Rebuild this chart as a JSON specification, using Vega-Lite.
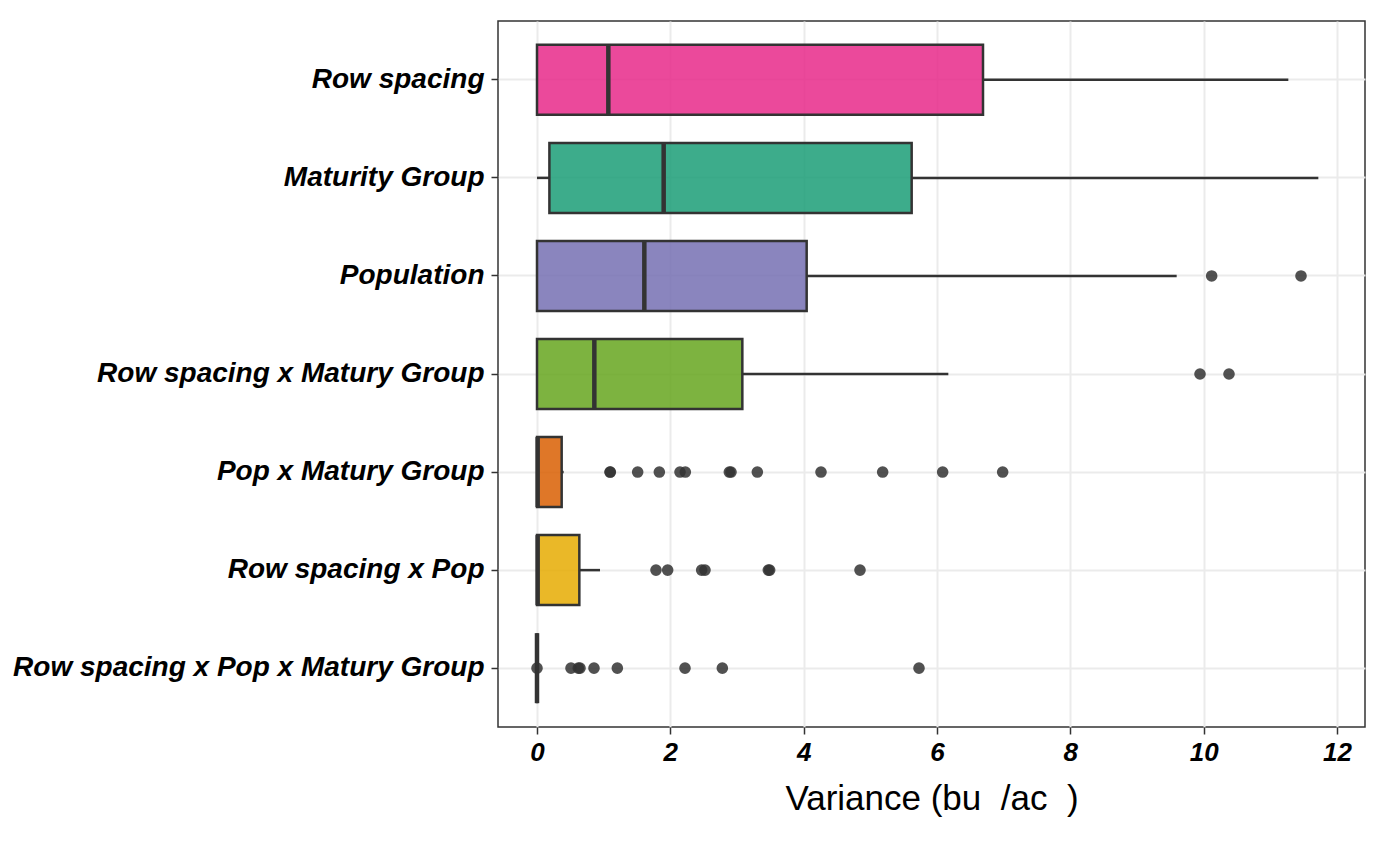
{
  "$schema": "https://vega.github.io/schema/vega-lite/v6.json",
  "autosize": {"type": "none"},
  "padding": {"left": 498, "top": 21, "right": 13, "bottom": 116},
  "width": 867,
  "height": 706,
  "background": "white",
  "config": {
    "view": {"stroke": "#333333", "strokeWidth": 1.5},
    "font": "Liberation Sans"
  },
  "datasets": {
    "boxes": [
      {"cat": "Row spacing", "lo": 0.0, "q1": 0.0, "med": 1.07, "q3": 6.69, "hi": 11.27},
      {"cat": "Maturity Group", "lo": 0.0, "q1": 0.186, "med": 1.9, "q3": 5.62, "hi": 11.72},
      {"cat": "Population", "lo": 0.0, "q1": 0.0, "med": 1.61, "q3": 4.045, "hi": 9.595},
      {"cat": "Row spacing x Matury Group", "lo": 0.0, "q1": 0.0, "med": 0.86, "q3": 3.08, "hi": 6.17},
      {"cat": "Pop x Matury Group", "lo": 0.0, "q1": 0.0, "med": 0.01, "q3": 0.37, "hi": 0.4},
      {"cat": "Row spacing x Pop", "lo": 0.0, "q1": 0.0, "med": 0.01, "q3": 0.635, "hi": 0.945},
      {"cat": "Row spacing x Pop x Matury Group", "lo": 0.0, "q1": 0.0, "med": 0.0, "q3": 0.0, "hi": 0.0}
    ],
    "outliers": [
      {"cat": "Population", "v": 10.12},
      {"cat": "Population", "v": 11.46},
      {"cat": "Row spacing x Matury Group", "v": 9.945},
      {"cat": "Row spacing x Matury Group", "v": 10.38},
      {"cat": "Pop x Matury Group", "v": 1.095},
      {"cat": "Pop x Matury Group", "v": 1.1},
      {"cat": "Pop x Matury Group", "v": 1.51},
      {"cat": "Pop x Matury Group", "v": 1.835},
      {"cat": "Pop x Matury Group", "v": 2.145},
      {"cat": "Pop x Matury Group", "v": 2.225},
      {"cat": "Pop x Matury Group", "v": 2.885},
      {"cat": "Pop x Matury Group", "v": 2.91},
      {"cat": "Pop x Matury Group", "v": 3.305},
      {"cat": "Pop x Matury Group", "v": 4.26},
      {"cat": "Pop x Matury Group", "v": 5.185},
      {"cat": "Pop x Matury Group", "v": 6.085},
      {"cat": "Pop x Matury Group", "v": 6.985},
      {"cat": "Row spacing x Pop", "v": 1.785},
      {"cat": "Row spacing x Pop", "v": 1.96},
      {"cat": "Row spacing x Pop", "v": 2.47},
      {"cat": "Row spacing x Pop", "v": 2.52},
      {"cat": "Row spacing x Pop", "v": 3.47},
      {"cat": "Row spacing x Pop", "v": 3.49},
      {"cat": "Row spacing x Pop", "v": 4.845},
      {"cat": "Row spacing x Pop x Matury Group", "v": 0.0},
      {"cat": "Row spacing x Pop x Matury Group", "v": 0.51},
      {"cat": "Row spacing x Pop x Matury Group", "v": 0.62},
      {"cat": "Row spacing x Pop x Matury Group", "v": 0.645},
      {"cat": "Row spacing x Pop x Matury Group", "v": 0.855},
      {"cat": "Row spacing x Pop x Matury Group", "v": 1.205},
      {"cat": "Row spacing x Pop x Matury Group", "v": 2.22},
      {"cat": "Row spacing x Pop x Matury Group", "v": 2.78},
      {"cat": "Row spacing x Pop x Matury Group", "v": 5.73}
    ]
  },
  "encoding": {
    "y": {
      "field": "cat",
      "type": "nominal",
      "sort": ["Row spacing", "Maturity Group", "Population", "Row spacing x Matury Group", "Pop x Matury Group", "Row spacing x Pop", "Row spacing x Pop x Matury Group"],
      "scale": {"paddingInner": 0.286, "paddingOuter": 0.243},
      "axis": {
        "title": null,
        "domain": false,
        "grid": true,
        "gridColor": "#EBEBEB",
        "gridWidth": 2,
        "ticks": true,
        "tickColor": "#333333",
        "tickSize": 7,
        "tickWidth": 1.5,
        "labelFont": "Liberation Sans",
        "labelFontSize": 28,
        "labelFontWeight": "bold",
        "labelFontStyle": "italic",
        "labelColor": "#000000",
        "labelPadding": 7,
        "labelLimit": 0
      }
    }
  },
  "layer": [
    {
      "data": {"name": "boxes"},
      "mark": {"type": "rule", "color": "#333333", "strokeWidth": 2.5},
      "encoding": {
        "x": {
          "field": "lo",
          "type": "quantitative",
          "scale": {"domain": [-0.585, 12.42], "nice": false, "zero": false},
          "axis": {
            "title": "Variance (bu\u00a0\u00a0/ac\u00a0\u00a0)",
            "values": [0, 2, 4, 6, 8, 10, 12],
            "format": "d",
            "domain": false,
            "grid": true,
            "gridColor": "#EBEBEB",
            "gridWidth": 2,
            "tickColor": "#333333",
            "tickSize": 7,
            "tickWidth": 1.5,
            "labelFont": "Liberation Sans",
            "labelFontSize": 26,
            "labelFontWeight": "bold",
            "labelFontStyle": "italic",
            "labelColor": "#000000",
            "labelPadding": 5,
            "titleFont": "Liberation Sans",
            "titleFontSize": 35,
            "titleFontWeight": "normal",
            "titleColor": "#000000",
            "titlePadding": 16
          }
        },
        "x2": {"field": "q1"}
      }
    },
    {
      "data": {"name": "boxes"},
      "mark": {"type": "rule", "color": "#333333", "strokeWidth": 2.5},
      "encoding": {
        "x": {"field": "q3", "type": "quantitative"},
        "x2": {"field": "hi"}
      }
    },
    {
      "data": {"name": "boxes"},
      "mark": {"type": "bar", "fillOpacity": 0.85, "stroke": "#333333", "strokeWidth": 2.5},
      "encoding": {
        "x": {"field": "q1", "type": "quantitative"},
        "x2": {"field": "q3"},
        "color": {
          "field": "cat",
          "type": "nominal",
          "scale": {
            "domain": ["Row spacing", "Maturity Group", "Population", "Row spacing x Matury Group", "Pop x Matury Group", "Row spacing x Pop", "Row spacing x Pop x Matury Group"],
            "range": ["#E7298A", "#1B9E77", "#7570B3", "#66A61E", "#D95F02", "#E6AB02", "#A6761D"]
          },
          "legend": null
        }
      }
    },
    {
      "data": {"name": "boxes"},
      "mark": {"type": "tick", "color": "#333333", "size": 70, "thickness": 4.5, "opacity": 1},
      "encoding": {
        "x": {"field": "med", "type": "quantitative"}
      }
    },
    {
      "data": {"name": "outliers"},
      "mark": {"type": "circle", "color": "#333333", "opacity": 0.85, "size": 135},
      "encoding": {
        "x": {"field": "v", "type": "quantitative"}
      }
    }
  ]
}
